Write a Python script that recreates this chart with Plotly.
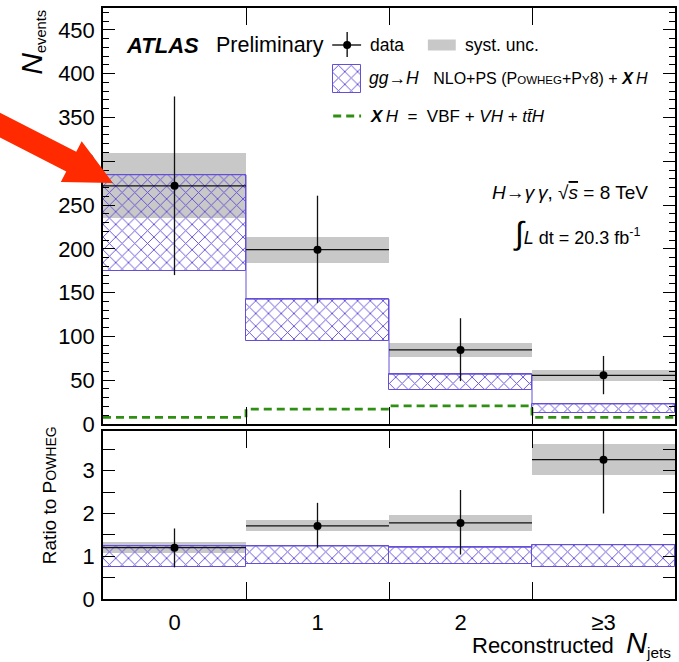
import numpy as np
import plotly.graph_objects as go

# ---------------- data ----------------
categories = ["0", "1", "2", "\u22653"]
data_val = [272, 199, 84.6, 55.6]
data_err_up = [102, 61.7, 36.2, 22.1]
data_err_dn = [102, 61.0, 35.6, 21.6]
syst_lo = [235, 183.6, 76, 49.5]
syst_hi = [309, 213.4, 93, 61.7]
pred_lo = [175, 95, 38.9, 13]
pred_hi = [284.6, 142.5, 56.8, 22.9]
xh_val = [7.6, 17, 20.6, 7.6]

ratio_val = [1.2, 1.71, 1.78, 3.26]
ratio_err_up = [0.45, 0.54, 0.77, 0.94]
ratio_err_dn = [0.46, 0.51, 0.74, 1.26]
ratio_syst_lo = [1.07, 1.60, 1.60, 2.90]
ratio_syst_hi = [1.34, 1.85, 1.96, 3.62]
ratio_pred_lo = [0.755, 0.83, 0.81, 0.74]
ratio_pred_hi = [1.245, 1.24, 1.21, 1.27]

# ---------------- style ----------------
FONT = "Liberation Sans, Arial, Helvetica, sans-serif"
PURPLE = "#6450d8"
GRAY = "#c8c8c8"
GREEN = "#2f8f12"
RED = "#ff2a00"

W, H = 679, 662
ML, MR, MT, MB = 103, 2, 8, 63


def px(x):
    return (x - ML) / (W - ML - MR)


def py(y):
    return (H - MB - y) / (H - MT - MB)


idx = np.arange(len(categories))
edges = np.append(idx - 0.5, idx[-1] + 0.5)

HATCH = dict(shape="x", fgcolor=PURPLE, bgcolor="rgba(0,0,0,0)", size=9,
             solidity=0.2, fillmode="replace")

fig = go.Figure()


def add_panel(xa, ya, s_lo, s_hi, p_lo, p_hi):
    s_lo, s_hi, p_lo, p_hi = map(np.array, (s_lo, s_hi, p_lo, p_hi))
    fig.add_trace(go.Bar(x=idx, base=s_lo, y=s_hi - s_lo, width=1,
                         marker=dict(color=GRAY, line=dict(width=0)),
                         xaxis=xa, yaxis=ya, showlegend=False, hoverinfo="skip"))
    fig.add_trace(go.Bar(x=idx, base=p_lo, y=p_hi - p_lo, width=1,
                         marker=dict(color=PURPLE, line=dict(color=PURPLE, width=1), pattern=HATCH),
                         xaxis=xa, yaxis=ya, showlegend=False, hoverinfo="skip"))
    fig.add_trace(go.Scatter(x=edges, y=np.append(p_hi, p_hi[-1]), mode="lines",
                             line=dict(color=PURPLE, width=1, shape="hv"),
                             xaxis=xa, yaxis=ya, showlegend=False, hoverinfo="skip"))


def add_data(xa, ya, val, eup, edn):
    fig.add_trace(go.Scatter(x=idx, y=val, mode="markers",
                             marker=dict(color="black", size=8),
                             error_x=dict(type="data", array=[0.5] * len(val), width=0,
                                          color="#111", thickness=1.3),
                             error_y=dict(type="data", array=eup, arrayminus=edn,
                                          width=0, color="#111", thickness=1.3),
                             xaxis=xa, yaxis=ya, showlegend=False, cliponaxis=True))


add_panel("x", "y", syst_lo, syst_hi, pred_lo, pred_hi)
fig.add_trace(go.Scatter(x=edges, y=xh_val + [xh_val[-1]], mode="lines",
                         line=dict(color=GREEN, width=2.8, dash="8px,5px", shape="hv"),
                         xaxis="x", yaxis="y", showlegend=False))
add_data("x", "y", data_val, data_err_up, data_err_dn)

add_panel("x2", "y2", ratio_syst_lo, ratio_syst_hi, ratio_pred_lo, ratio_pred_hi)
add_data("x2", "y2", ratio_val, ratio_err_up, ratio_err_dn)
# carrier trace for the category label axis
fig.add_trace(go.Scatter(x=idx, y=[None] * 4, xaxis="x3", yaxis="y2",
                         showlegend=False, hoverinfo="skip"))

top_dom = [py(424), 1]
bot_dom = [0, py(431)]

xcommon = dict(range=[-0.5, 3.5], tickvals=list(edges[1:-1]), ticks="inside", ticklen=17,
               tickwidth=1, tickcolor="black", showticklabels=False, showline=True,
               linewidth=1.5, linecolor="black", mirror="allticks", showgrid=False,
               zeroline=False, fixedrange=True)
ycommon = dict(ticks="inside", ticklen=12, tickwidth=1, tickcolor="black",
               showline=True, linewidth=1.5, linecolor="black", mirror="allticks",
               showgrid=False, zeroline=False, tickfont=dict(size=22, color="black", family=FONT),
               ticklabelstandoff=2, fixedrange=True)

fig.update_layout(
    width=W, height=H, margin=dict(l=ML, r=MR, t=MT, b=MB),
    paper_bgcolor="white", plot_bgcolor="rgba(0,0,0,0)",
    barmode="overlay", bargap=0, showlegend=False,
    font=dict(family=FONT, color="black"),
    xaxis=dict(domain=[0, 1], anchor="y", **xcommon),
    xaxis2=dict(domain=[0, 1], anchor="y2", **xcommon),
    xaxis3=dict(domain=[0, 1], anchor="y2", overlaying="x2", range=[-0.5, 3.5],
                tickvals=list(idx), ticktext=categories, ticks="", showline=False,
                showgrid=False, zeroline=False, side="bottom", ticklabelstandoff=8,
                tickfont=dict(size=22, color="black", family=FONT), fixedrange=True),
    yaxis=dict(domain=top_dom, anchor="x", range=[0, 475], dtick=50, tick0=0,
               minor=dict(dtick=10, ticklen=6, ticks="inside", tickcolor="black", tickwidth=1),
               **ycommon),
    yaxis2=dict(domain=bot_dom, anchor="x2", range=[0, 3.93], dtick=1, tick0=0,
                minor=dict(dtick=0.5, ticklen=6, ticks="inside", tickcolor="black", tickwidth=1),
                **ycommon),
)

ann = []


def text(x, y, t, size, xanchor="left", yanchor="middle", angle=0):
    ann.append(dict(x=px(x), y=py(y), xref="paper", yref="paper", text=t, showarrow=False,
                    xanchor=xanchor, yanchor=yanchor, textangle=angle,
                    font=dict(size=size, family=FONT, color="black")))


# axis titles
text(31, 8, "<span style='font-size:30px'><i>N</i></span><sub>events</sub>", 21,
     xanchor="center", yanchor="top", angle=-90)
text(49, 495, "Ratio to P<span style='font-size:14px'>OWHEG</span>", 19,
     xanchor="center", yanchor="middle", angle=-90)
text(675, 644, "Reconstructed\u00a0\u00a0<span style='font-size:29px'><i>N</i></span><sub>jets</sub>",
     22, xanchor="right", yanchor="middle")

# ATLAS label
text(124, 45, "<b><i>ATLAS</i></b>", 22)
text(214, 45, "Preliminary", 21.5)

# legend
S = 17.5
text(369, 45, "data", S)
text(464, 45, "syst. unc.", S)
text(368, 78, "<i>gg</i>\u2192<i>H</i>\u00a0\u00a0 <span style='font-size:16px'>NLO+PS (P"
     "<span style='font-size:11.5px'>OWHEG</span>+P<span style='font-size:11.5px'>Y</span>8) + "
     "<b><i>X</i></b>\u2009<i>H</i></span>", S)
text(369, 116, "<b><i>X</i></b>\u2009<i>H</i>\u00a0 = \u00a0VBF + <i>VH</i> + <i>t</i><i>t\u0304</i><i>H</i>", 17)

# right annotations
text(652, 192, "<i>H</i>\u2192<i>\u03b3\u2009\u03b3</i>, \u221a<span style='text-decoration:overline'><i>s</i></span> = 8 TeV",
     19, xanchor="right")
text(645, 233, "<span style='font-size:32px'>\u222b</span><i>L</i> dt = 20.3 fb<sup>-1</sup>",
     18, xanchor="right")

shapes = []
# legend swatches
shapes.append(dict(type="line", xref="paper", yref="paper", x0=px(333), x1=px(362), y0=py(45), y1=py(45),
                   line=dict(color="black", width=1.3)))
shapes.append(dict(type="line", xref="paper", yref="paper", x0=px(348), x1=px(348), y0=py(32), y1=py(57),
                   line=dict(color="black", width=1.3)))
shapes.append(dict(type="circle", xref="paper", yref="paper", x0=px(344), x1=px(352), y0=py(41), y1=py(49),
                   fillcolor="black", line=dict(color="black", width=0)))
shapes.append(dict(type="rect", xref="paper", yref="paper", x0=px(429), x1=px(457), y0=py(39.5), y1=py(50.5),
                   fillcolor=GRAY, line=dict(width=0)))
shapes.append(dict(type="line", xref="paper", yref="paper", x0=px(334), x1=px(362), y0=py(116), y1=py(116),
                   line=dict(color=GREEN, width=2.8, dash="8px,5px")))

# red arrow (pixel-defined annotation graphic)
tip = np.array([113.0, 183.0])
d = np.array([41.7, 21.3]); d = d / np.linalg.norm(d)
n = np.array([-d[1], d[0]])
head_len, head_half, shaft_half = 47, 23, 11
base = tip - d * head_len
start = tip - d * 200
pts = [start + n * shaft_half, base + n * shaft_half, base + n * head_half, tip,
       base - n * head_half, base - n * shaft_half, start - n * shaft_half]
path = "M " + " L ".join(f"{px(p[0]):.5f},{py(p[1]):.5f}" for p in pts) + " Z"
shapes.append(dict(type="path", xref="paper", yref="paper", path=path, fillcolor=RED,
                   line=dict(width=0), layer="above"))

fig.update_layout(annotations=ann, shapes=shapes)

# hatched legend swatch on a hidden full-area axis pair
fig.add_trace(go.Bar(x=[348], base=[py(92.5)], y=[py(65) - py(92.5)], width=[28],
                     marker=dict(color=PURPLE, line=dict(color=PURPLE, width=1), pattern=HATCH),
                     xaxis="x4", yaxis="y4", showlegend=False, hoverinfo="skip"))
fig.update_layout(
    xaxis4=dict(domain=[0, 1], range=[ML, W - MR], visible=False, fixedrange=True, anchor="y4"),
    yaxis4=dict(domain=[0, 1], range=[0, 1], visible=False, fixedrange=True, anchor="x4"),
)

fig.write_html("out.html", config={"displayModeBar": False},
               post_script="document.body.style.margin='0';document.body.style.overflow='hidden';")
